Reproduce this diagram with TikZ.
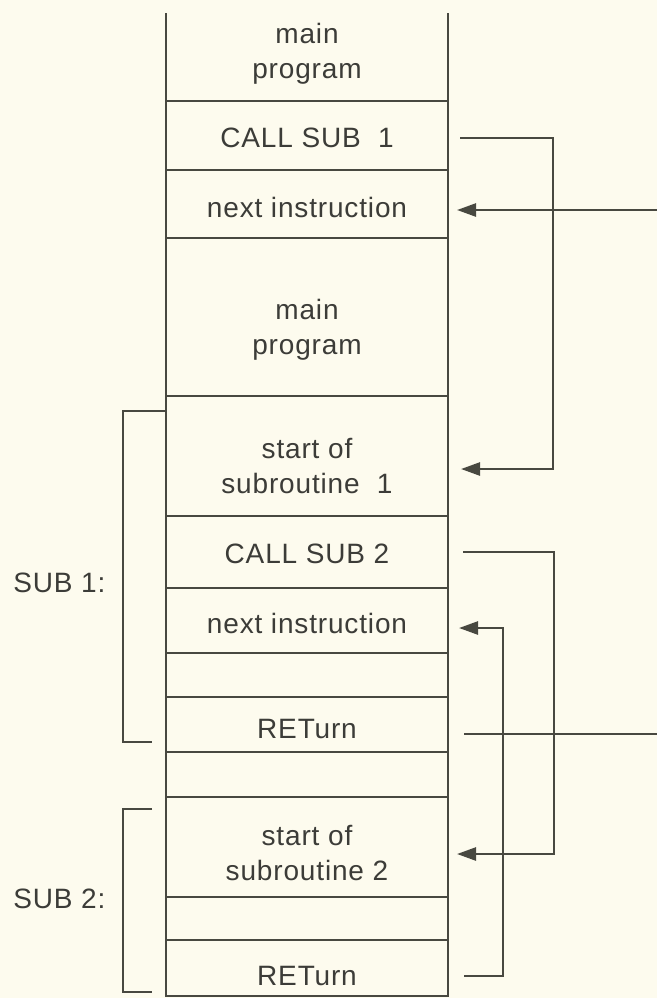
\documentclass[tikz,border=0pt]{standalone}
\usepackage{fontspec}
\setmainfont{Liberation Sans}[LetterSpace=3]
\usetikzlibrary{arrows.meta,calc}
\definecolor{ink}{RGB}{72,72,64}
\definecolor{txtink}{RGB}{60,60,56}
\definecolor{paper}{RGB}{253,251,238}
\begin{document}
\begin{tikzpicture}[x=0.5pt,y=-0.5pt,
  box/.style={draw=ink,line width=1.3pt,minimum width=141pt,inner sep=0pt,outer sep=0pt,shape=rectangle},
  txt/.style={text=txtink,font=\fontsize{14}{17.5}\selectfont,align=center,anchor=base,inner sep=0pt},
  conn/.style={draw=ink,line width=1.25pt},
  arr/.style={-{Triangle[length=9.5pt,width=6.5pt]}},
  brk/.style={draw=ink,line width=1.3pt}]
\fill[paper] (0,0) rectangle (657,998);
\useasboundingbox (0,0) rectangle (657,998);
% boxes
\node[box,draw=none,minimum height=44pt] (b1) at (307,57) {};
\node[box,minimum height=34.5pt] (b2) at (307,135.5) {};
\node[box,minimum height=34pt] (b3) at (307,204) {};
\node[box,minimum height=79pt] (b4) at (307,317) {};
\node[box,minimum height=60pt] (b5) at (307,456) {};
\node[box,minimum height=36pt] (b6) at (307,552) {};
\node[box,minimum height=32.5pt] (b7) at (307,620.5) {};
\node[box,minimum height=22pt] (b8) at (307,675) {};
\node[box,minimum height=27.5pt] (b9) at (307,724.5) {};
\node[box,minimum height=22.5pt] (b10) at (307,774.5) {};
\node[box,minimum height=50pt] (b11) at (307,847) {};
\node[box,minimum height=21.5pt] (b12) at (307,918.5) {};
\node[box,minimum height=28pt] (b13) at (307,968) {};
\draw[ink,line width=1.3pt] (b1.north west) -- (b1.south west) (b1.north east) -- (b1.south east);
% texts
\node[txt] (t1) at (307,78) {main\\program};
\node[txt] (t2) at (307,147) {CALL SUB~~1};
\node[txt] (t3) at (307,217) {next instruction};
\node[txt] (t4) at (307,354) {main\\program};
\node[txt] (t5) at (307,493) {start of\\subroutine~~1};
\node[txt] (t6) at (307,563) {CALL SUB 2};
\node[txt] (t7) at (307,633) {next instruction};
\node[txt] (t9) at (307,738) {RETurn};
\node[txt] (t11) at (307,880) {start of\\subroutine 2};
\node[txt] (t13) at (307,985) {RETurn};
\node[txt,anchor=base west] (s1) at (13,592) {SUB 1:};
\node[txt,anchor=base west] (s2) at (13,908) {SUB 2:};
% brackets
\draw[brk] (165,411) -- (123,411) -- (123,742) -- (152,742);
\draw[brk] (152,809) -- (123,809) -- (123,992) -- (152,992);
% connectors
\coordinate (in1) at (657,210);
\coordinate (out1) at (657,734);
\draw[conn,arr] (in1) -- ([shift={(9,6)}]b3.east);
\draw[conn,arr] ([shift={(12,2.5)}]b2.east) -| ([shift={(105,13)}]b5.east) -- ([shift={(13,13)}]b5.east);
\draw[conn,arr] ([shift={(15,0)}]b6.east) -| ([shift={(106,7)}]b11.east) -- ([shift={(9,7)}]b11.east);
\draw[conn] ([shift={(16,9.5)}]b9.east) -- (out1);
\draw[conn,arr] ([shift={(16,8)}]b13.east) -| ([shift={(55,7.5)}]b7.east) -- ([shift={(11,7.5)}]b7.east);
\end{tikzpicture}
\end{document}
